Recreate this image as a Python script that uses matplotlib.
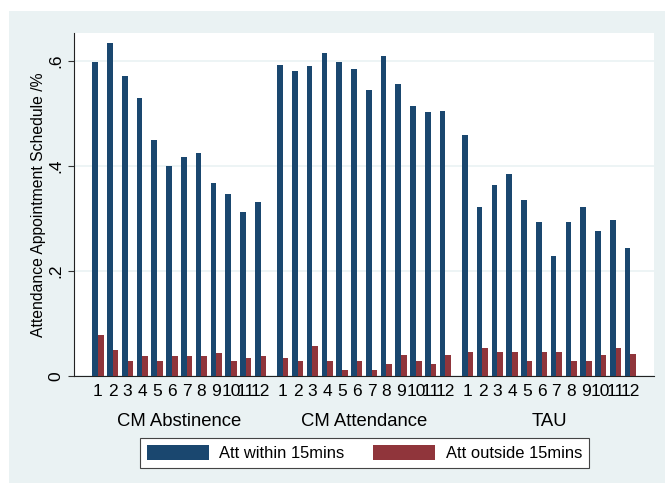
import numpy as np
import matplotlib
matplotlib.use("Agg")
import matplotlib.pyplot as plt
from matplotlib.patches import Rectangle

plt.rcParams['font.family'] = ['Liberation Sans', 'DejaVu Sans']

groups = ['CM Abstinence', 'CM Attendance', 'TAU']
weeks = ['1', '2', '3', '4', '5', '6', '7', '8', '9', '10', '11', '12']

# share of appointments attended within / outside 15 mins, per group and week
within = [
    [0.598, 0.633, 0.571, 0.529, 0.450, 0.400, 0.416, 0.425, 0.368, 0.347, 0.313, 0.332],  # CM Abstinence
    [0.592, 0.580, 0.589, 0.615, 0.597, 0.585, 0.545, 0.609, 0.555, 0.514, 0.503, 0.505],  # CM Attendance
    [0.459, 0.321, 0.364, 0.384, 0.335, 0.294, 0.229, 0.294, 0.321, 0.275, 0.296, 0.244],  # TAU
]
outside = [
    [0.078, 0.049, 0.029, 0.039, 0.029, 0.039, 0.039, 0.039, 0.044, 0.029, 0.034, 0.039],
    [0.034, 0.028, 0.057, 0.028, 0.011, 0.028, 0.011, 0.022, 0.040, 0.028, 0.022, 0.040],
    [0.046, 0.053, 0.046, 0.046, 0.029, 0.046, 0.046, 0.029, 0.029, 0.040, 0.053, 0.041],
]

navy = '#1a476f'
maroon = '#90353b'
bg = '#eaf2f3'

fig = plt.figure(figsize=(6.65, 4.83), dpi=100, facecolor='white')
# stata style light background panel
fig.patches.append(Rectangle((9 / 665, 0), 1 - 9 / 665, 1 - 11 / 483,
                             transform=fig.transFigure, facecolor=bg,
                             edgecolor='none', zorder=-10))

ax = fig.add_axes([74 / 665, 1 - 376 / 483, 580 / 665, 343 / 483])
ax.set_facecolor('white')

gap = 12.5   # distance between group starts, in week slots
w = 0.38
centers = []
for g in range(len(groups)):
    c = g * gap + np.arange(len(weeks))
    centers.append(c)
    ax.bar(c - w / 2, within[g], width=w, color=navy, linewidth=0, zorder=3,
           label='Att within 15mins' if g == 0 else None)
    ax.bar(c + w / 2, outside[g], width=w, color=maroon, linewidth=0, zorder=3,
           label='Att outside 15mins' if g == 0 else None)
    ax.text(c.mean(), -0.134, groups[g], transform=ax.get_xaxis_transform(),
            ha='center', va='center', fontsize=13.3)

allc = np.concatenate(centers)
ax.set_xticks(allc)
ax.set_xticklabels(weeks * len(groups), fontsize=12.5)
ax.tick_params(axis='x', length=0, pad=5.5)

ax.set_xlim(-1.62, 37.6)
ax.set_ylim(0, 0.6527)
ax.set_yticks([0, 0.2, 0.4, 0.6])
ax.set_yticklabels(['0', '.2', '.4', '.6'], rotation=90, va='center', fontsize=12.5)
ax.tick_params(axis='y', length=4.5, width=0.8, color='#333333', pad=3)
ax.yaxis.grid(True, color=bg, linewidth=1.2, zorder=0)
ax.set_axisbelow(True)

for s in ['top', 'right']:
    ax.spines[s].set_visible(False)
for s in ['left', 'bottom']:
    ax.spines[s].set_color('#222222')
    ax.spines[s].set_linewidth(0.8)

ax.set_ylabel('Attendance Appointment Schedule /%', fontsize=11.3, labelpad=1.5)

leg = fig.legend(loc='center', bbox_to_anchor=(364.3 / 665, 1 - 453 / 483), ncol=2,
                 fontsize=11.9, frameon=True, fancybox=False, framealpha=1,
                 edgecolor='#444444', handlelength=3.75, handleheight=1.05,
                 handletextpad=0.65, columnspacing=1.7, borderpad=0.42,
                 borderaxespad=0)
leg.get_frame().set_linewidth(0.8)

fig.savefig('out.png', dpi=100, facecolor='white')
